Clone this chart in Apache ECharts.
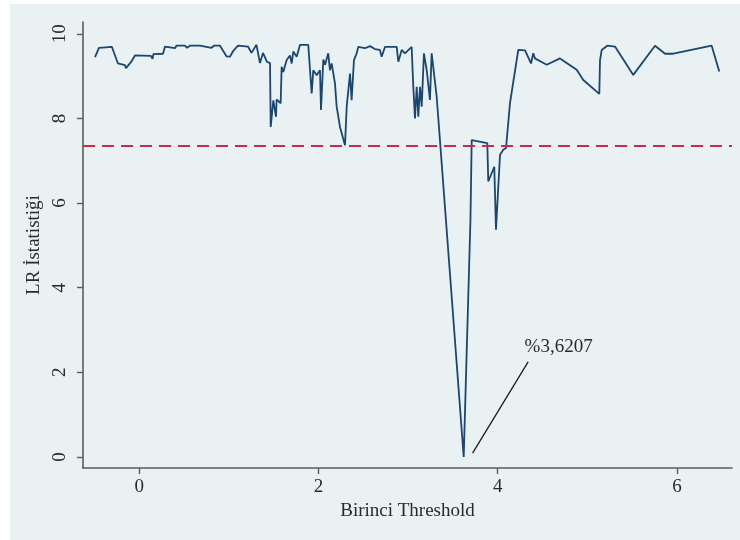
<!DOCTYPE html>
<html>
<head>
<meta charset="utf-8">
<title>LR İstatistiği</title>
<script src="https://cdn.jsdelivr.net/npm/echarts@6/dist/echarts.min.js"></script>
<style>
  html, body { margin: 0; padding: 0; background: #fff; }
  #chart { position: absolute; left: 10px; top: 4px; width: 730px; height: 536px; }
</style>
</head>
<body>
<div id="chart"></div>
<script>
// ── data ──
const thresholdX = [
  -0.494, -0.472, -0.450, -0.305, -0.238, -0.160, -0.148, -0.093, -0.048, 0.130,
  0.148, 0.158, 0.265, 0.287, 0.398, 0.415, 0.510, 0.532, 0.566, 0.677,
  0.806, 0.834, 0.901, 0.973, 1.012, 1.046, 1.102, 1.213, 1.252, 1.308,
  1.347, 1.381, 1.425, 1.459, 1.467, 1.496, 1.526, 1.533, 1.578, 1.589,
  1.607, 1.645, 1.682, 1.701, 1.719, 1.757, 1.794, 1.886, 1.924, 1.942,
  1.980, 2.017, 2.028, 2.054, 2.073, 2.109, 2.128, 2.147, 2.184, 2.203,
  2.240, 2.296, 2.315, 2.352, 2.370, 2.396, 2.426, 2.444, 2.519, 2.575,
  2.630, 2.686, 2.705, 2.742, 2.873, 2.891, 2.929, 2.965, 3.040, 3.058,
  3.077, 3.096, 3.114, 3.133, 3.152, 3.177, 3.208, 3.244, 3.263, 3.319,
  3.6207, 3.696, 3.710, 3.884, 3.895, 3.962, 3.981, 4.026, 4.062, 4.093,
  4.137, 4.230, 4.305, 4.372, 4.397, 4.416, 4.547, 4.695, 4.882, 4.955,
  5.134, 5.142, 5.161, 5.223, 5.309, 5.513, 5.756, 5.868, 5.960, 6.388,
  6.473,
];
const lrStat = [
  9.45, 9.43, 9.67, 9.69, 9.30, 9.26, 9.19, 9.33, 9.49, 9.48,
  9.41, 9.52, 9.53, 9.70, 9.66, 9.72, 9.72, 9.67, 9.72, 9.72,
  9.67, 9.72, 9.72, 9.47, 9.46, 9.59, 9.72, 9.70, 9.55, 9.74,
  9.31, 9.55, 9.34, 9.31, 7.80, 8.43, 8.04, 8.45, 8.36, 9.22,
  9.10, 9.38, 9.49, 9.30, 9.58, 9.46, 9.74, 9.74, 8.59, 9.14,
  9.02, 9.14, 8.20, 9.39, 9.27, 9.54, 9.14, 9.30, 8.83, 8.28,
  7.80, 7.37, 8.28, 9.06, 8.43, 9.38, 9.54, 9.69, 9.66, 9.71,
  9.64, 9.62, 9.46, 9.69, 9.69, 9.34, 9.62, 9.54, 9.69, 8.75,
  8.00, 8.75, 8.04, 8.75, 8.28, 9.54, 9.14, 8.44, 9.54, 8.52,
  0.00, 5.60, 7.49, 7.42, 6.51, 6.86, 5.37, 7.14, 7.26, 7.30,
  8.36, 9.62, 9.61, 9.30, 9.54, 9.42, 9.27, 9.42, 9.15, 8.91,
  8.58, 9.38, 9.62, 9.72, 9.70, 9.03, 9.72, 9.53, 9.53, 9.72,
  9.11,
];
const xTicks = [0, 2, 4, 6];
const yTicks = [0, 2, 4, 6, 8, 10];
const criticalValue = 7.35;
const thresholdLabel = "%3,6207";
const pointerFrom = [3.72, 0.09];
const pointerTo = [4.34, 2.25];
const labelAnchor = [4.30, 2.60];

const FONT = "'Liberation Serif', 'DejaVu Serif', serif";
const AXIS_GREY = "#5c5c5c";
const TEXT = "#2a2a2a";

const chart = echarts.init(document.getElementById("chart"));

chart.setOption({
  animation: false,
  backgroundColor: "#e9f1f3",
  grid: { left: 73, right: 8, top: 18, bottom: 72 },
  xAxis: {
    type: "value",
    min: -0.628,
    max: 6.615,
    name: "Birinci Threshold",
    nameLocation: "middle",
    nameGap: 30,
    nameTextStyle: { fontFamily: FONT, fontSize: 19, color: TEXT },
    splitLine: { show: false },
    axisLine: { show: true, onZero: false, lineStyle: { color: AXIS_GREY, width: 1.6 } },
    axisTick: { show: true, length: 6, customValues: xTicks, lineStyle: { color: AXIS_GREY, width: 1.4 } },
    axisLabel: {
      customValues: xTicks,
      margin: 10,
      fontFamily: FONT,
      fontSize: 19,
      color: TEXT,
    },
  },
  yAxis: {
    type: "value",
    min: -0.26,
    max: 10.28,
    name: "LR İstatistiği",
    nameLocation: "middle",
    nameRotate: 90,
    nameGap: 32,
    nameTextStyle: { fontFamily: FONT, fontSize: 19, color: TEXT },
    splitLine: { show: false },
    axisLine: { show: true, onZero: false, lineStyle: { color: AXIS_GREY, width: 1.6 } },
    axisTick: { show: true, length: 6, customValues: yTicks, lineStyle: { color: AXIS_GREY, width: 1.4 } },
    axisLabel: {
      customValues: yTicks,
      rotate: 90,
      margin: 13,
      fontFamily: FONT,
      fontSize: 19,
      color: TEXT,
    },
  },
  series: [
    {
      type: "line",
      data: thresholdX.map((x, i) => [x, lrStat[i]]),
      showSymbol: false,
      symbol: "none",
      lineStyle: { color: "#1a476f", width: 1.8 },
      z: 3,
      markLine: {
        silent: true,
        symbol: ["none", "none"],
        label: { show: false },
        data: [
          {
            yAxis: criticalValue,
            lineStyle: { color: "#c92a4b", width: 2, type: [12, 7] },
          },
          [
            { coord: pointerFrom, lineStyle: { color: "#1e1e1e", width: 1.3, type: "solid" } },
            { coord: pointerTo },
          ],
        ],
      },
      markPoint: {
        silent: true,
        symbol: "circle",
        symbolSize: 0,
        data: [
          {
            coord: labelAnchor,
            label: {
              show: true,
              position: "right",
              distance: 0,
              formatter: thresholdLabel,
              fontFamily: FONT,
              fontSize: 19,
              color: TEXT,
            },
          },
        ],
      },
    },
  ],
});
</script>
</body>
</html>
